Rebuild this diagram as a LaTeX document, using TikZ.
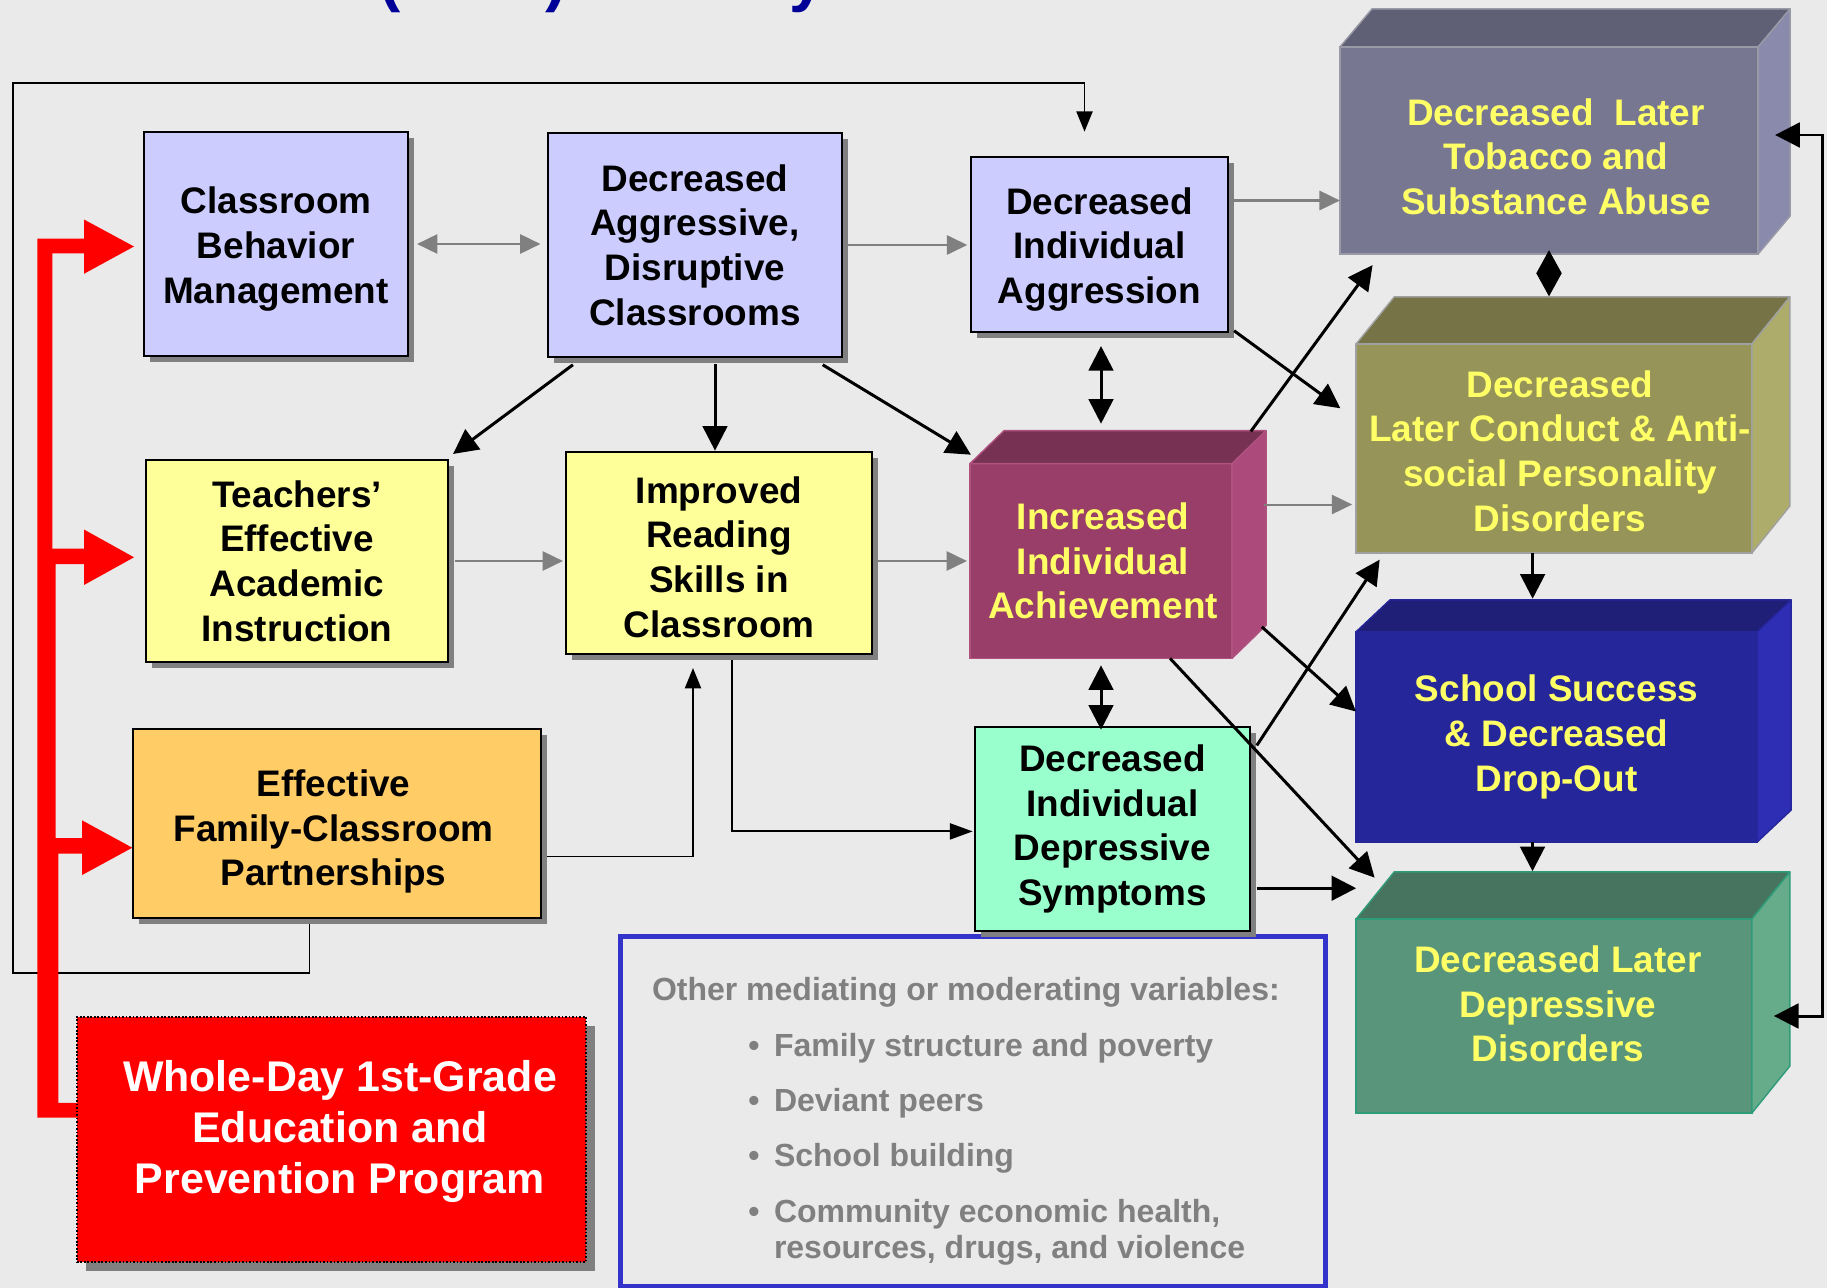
\documentclass[tikz,border=0pt]{standalone}
\usepackage{fontspec}
\setmainfont{Liberation Sans}
\usetikzlibrary{arrows.meta,calc,shadows}
\pgfdeclarelayer{canvas}
\pgfdeclarelayer{under}
\pgfsetlayers{canvas,under,main}

\definecolor{bg}{HTML}{EAEAEA}
\definecolor{lav}{HTML}{CCCCFF}
\definecolor{lyel}{HTML}{FFFF99}
\definecolor{lora}{HTML}{FFCC66}
\definecolor{aqua}{HTML}{99FFCC}
\definecolor{shade}{HTML}{808080}
\definecolor{arrgray}{HTML}{808080}
\definecolor{notegray}{HTML}{808080}
\definecolor{frameblue}{HTML}{3333CC}
\definecolor{titleblue}{HTML}{000099}
\definecolor{ytext}{HTML}{FFFF66}
\definecolor{progred}{HTML}{FF0000}
\definecolor{tobF}{HTML}{777791}\definecolor{tobT}{HTML}{5F5F76}\definecolor{tobS}{HTML}{8A8AAC}\definecolor{tobE}{HTML}{9A9AA6}
\definecolor{conF}{HTML}{969458}\definecolor{conT}{HTML}{767347}\definecolor{conS}{HTML}{AEAC6A}\definecolor{conE}{HTML}{A0A0A0}
\definecolor{schF}{HTML}{26269B}\definecolor{schT}{HTML}{1F1F77}\definecolor{schS}{HTML}{2E2EB5}
\definecolor{dldF}{HTML}{59957A}\definecolor{dldT}{HTML}{46745F}\definecolor{dldS}{HTML}{66AB8A}\definecolor{dldE}{HTML}{2E9C78}
\definecolor{iiaF}{HTML}{993D69}\definecolor{iiaT}{HTML}{773152}\definecolor{iiaS}{HTML}{AB4A7B}\definecolor{iiaE}{HTML}{B0527F}

\newcommand\bxfont{\fontsize{10.5pt}{12.7pt}\selectfont\bfseries}
\newcommand\rdfont{\fontsize{12.2pt}{14.6pt}\selectfont\bfseries}
\newcommand\ntfont{\fontsize{9.1pt}{10.3pt}\selectfont\bfseries}
\newcommand\ttlfont{\fontsize{18.2pt}{20pt}\selectfont\bfseries}

% top and side faces of a box whose front face is node #1
\newcommand\drawcube[6]{%
  \filldraw[fill=#4,draw=#6,line width=0.4pt,line join=round]
    (#1.north west) -- ($(#1.north west)+(#2,#3)$) -- ($(#1.north east)+(#2,#3)$) -- (#1.north east) -- cycle;
  \filldraw[fill=#5,draw=#6,line width=0.4pt,line join=round]
    (#1.north east) -- ($(#1.north east)+(#2,#3)$) -- ($(#1.south east)+(#2,#3)$) -- (#1.south east) -- cycle;
}

\begin{document}
\begin{tikzpicture}[x=0.01cm,y=-0.01cm,
  box/.style={draw=black,line width=0.7pt,inner sep=0pt,outer sep=0pt,align=center,font=\bxfont},
  btext/.style={inner sep=0pt,outer sep=0pt,align=center,font=\bxfont},
  shd/.style={drop shadow={shadow xshift=1.7pt,shadow yshift=-1.7pt,fill=shade,opacity=1}},
  face/.style={inner sep=0pt,outer sep=0pt,line width=0.4pt,align=center,font=\bxfont,text=ytext},
  note/.style={inner sep=0pt,outer sep=0pt,font=\ntfont,text=notegray},
  titlefrag/.style={inner sep=0pt,outer sep=0pt,font=\ttlfont,text=titleblue},
  garrow/.style={draw=arrgray,line width=0.57pt,-{Triangle[length=5.8pt,width=5.5pt]}},
  garrows/.style={draw=arrgray,line width=0.57pt,{Triangle[length=5.8pt,width=5.5pt]}-{Triangle[length=5.8pt,width=5.5pt]}},
  karrow/.style={draw=black,line width=0.85pt,-{Triangle[length=7pt,width=7pt]}},
  karrows/.style={draw=black,line width=0.85pt,{Triangle[length=7pt,width=7pt]}-{Triangle[length=7pt,width=7pt]}},
  tarrow/.style={draw=black,line width=0.55pt,-{Triangle[length=5.8pt,width=4.6pt]}},
]

\begin{pgfonlayer}{canvas}
  \fill[bg] (0,0) rectangle (1827,1288);
\end{pgfonlayer}
\useasboundingbox (0,0) rectangle (1827,1288);

% heading, cut by the top edge
\begin{scope}
  \clip (0,0) rectangle (1827,60);
  \node[titlefrag,anchor=base west] (tpo) at (379,0) {(};
  \node[titlefrag,anchor=base west] (tpc) at (545,0) {)};
  \node[titlefrag,anchor=base west] (ty)  at (789,0) {y};
\end{scope}

% frame of other variables
\node[draw=frameblue,line width=1.42pt,minimum width=7.04cm,minimum height=3.5cm,inner sep=0pt,outer sep=0pt] (oth) at (973,1111.7) {};
\node[note,anchor=base west] (othhead) at (652,1000) {Other mediating or moderating variables:};
\node[note,anchor=base] (bu1) at (754,1056.7) {•};
\node[note,anchor=base] (bu2) at (754,1111.7) {•};
\node[note,anchor=base] (bu3) at (754,1166.7) {•};
\node[note,anchor=base] (bu4) at (754,1222.7) {•};
\node[note,anchor=base west] (it1) at (774,1056.7) {Family structure and poverty};
\node[note,anchor=base west] (it2) at (774,1111.7) {Deviant peers};
\node[note,anchor=base west] (it3) at (774,1166.7) {School building};
\node[note,anchor=base west] (it4a) at (774,1222.7) {Community economic health,};
\node[note,anchor=base west] (it4b) at (774,1258.5) {resources, drugs, and violence};

% flat boxes
\node[box,shd,fill=lav,minimum width=2.64cm,minimum height=2.24cm] (cbm) at (276,244) {};
\node[btext] (cbmt) at (276,249) {Classroom\\Behavior\\Management};
\node[box,shd,fill=lav,minimum width=2.94cm,minimum height=2.24cm] (dadc) at (695,245) {Decreased\\Aggressive,\\Disruptive\\Classrooms};
\node[box,shd,fill=lav,minimum width=2.57cm,minimum height=1.75cm] (dia) at (1099.5,244.5) {};
\node[btext] (diat) at (1099.5,249.5) {Decreased\\Individual\\Aggression};
\node[box,shd,fill=lyel,minimum width=3.02cm,minimum height=2.02cm] (tea) at (297,561) {Teachers’\\Effective\\Academic\\Instruction};
\node[box,shd,fill=lyel,minimum width=3.06cm,minimum height=2.02cm] (irs) at (719,553) {};
\node[btext] (irst) at (719,557) {Improved\\Reading\\Skills in\\Classroom};
\node[box,shd,fill=lora,minimum width=4.08cm,minimum height=1.89cm] (fcp) at (337,823.5) {};
\node[btext] (fcpt) at (333.5,831.5) {Effective\\Family-Classroom\\Partnerships};
\node[box,shd,fill=aqua,minimum width=2.75cm,minimum height=2.04cm] (dds) at (1112.5,829) {Decreased\\Individual\\Depressive\\Symptoms};
\node[box,fill=progred,line width=0.4pt,dash pattern=on 0.5pt off 0.5pt,minimum width=5.09cm,minimum height=2.45cm,
      drop shadow={shadow xshift=2.6pt,shadow yshift=-2.6pt,fill=shade,opacity=1}] (prog) at (331.5,1139.5) {};
\node[inner sep=0pt,align=center,font=\rdfont,text=white] (progt) at (340,1131.5) {Whole-Day 1st-Grade\\Education and\\Prevention Program};

% solid boxes
\node[face,fill=iiaF,draw=iiaE,minimum width=2.62cm,minimum height=1.945cm] (iia) at (1101,561) {};
\drawcube{iia}{34}{-33}{iiaT}{iiaS}{iiaE}
\node[face] (iiat) at (1103,561) {Increased\\Individual\\Achievement};
\node[face,fill=tobF,draw=tobE,minimum width=4.18cm,minimum height=2.07cm] (tob) at (1549,150.5) {};
\drawcube{tob}{32}{-38}{tobT}{tobS}{tobE}
\node[face] (tobt) at (1556,156.5) {Decreased~~Later\\Tobacco and\\Substance Abuse};
\node[face,fill=conF,draw=conE,minimum width=3.955cm,minimum height=2.09cm] (con) at (1554,448.5) {};
\drawcube{con}{38}{-47}{conT}{conS}{conE}
\node[face] (cont) at (1560,451) {Decreased\\Later Conduct \& Anti-\\social Personality\\Disorders};
\node[face,fill=schF,draw=schF,minimum width=4.01cm,minimum height=2.10cm] (sch) at (1556.5,737) {School Success\\\& Decreased\\Drop-Out};
\drawcube{sch}{34}{-32}{schT}{schS}{schF}
\node[face,fill=dldF,draw=dldE,minimum width=3.955cm,minimum height=1.94cm] (dld) at (1554,1016) {};
\drawcube{dld}{38}{-47}{dldT}{dldS}{dldE}
\node[face] (dldt) at (1558,1004) {Decreased Later\\Depressive\\Disorders};

% grey links
\draw[garrows] ($(cbm.east)+(9,0)$) -- ($(dadc.west |- cbm.east)+(-7.5,0)$);
\draw[garrow] ($(dadc.east)+(6,0)$) -- ($(dia.west |- dadc.east)+(-3.7,0)$);
\draw[garrow] ($(dia.east)+(5,-44)$) coordinate (g3s) -- (g3s -| tob.west);
\draw[garrow] ($(tea.east)+(7,0)$) coordinate (g4s) -- ($(g4s -| irs.west)+(-3,0)$);
\draw[garrow] ($(irs.east)+(6,8)$) coordinate (g5s) -- ($(g5s -| iia.west)+(-3,0)$);
\draw[garrow] ($(iia.east)+(32,-56.5)$) coordinate (g6s) -- ($(g6s -| con.west)+(-4,0)$);

% black links
\draw[karrow] ($(dadc.south west)+(25,7.7)$) -- ($(tea.north east)+(5,-6)$);
\draw[karrow] ($(dadc.south)+(20,7)$) -- ($(irs.north)+(-4,-1.3)$);
\draw[karrow] ($(dadc.south east)+(-19.4,7.7)$) -- ($(iia.north west)+(1,-9)$);
\draw[karrows] ($(dia.south)+(1.5,14)$) -- ($(iia.north)+(0,-40)$);
\draw[karrow] ($(dia.south east)+(6,-1.3)$) -- ($(con.west)+(-15.8,-40.2)$);
\draw[karrow] ($(iia.north east)+(18.7,-32.3)$) -- ($(tob.south west)+(32.7,11)$);
\draw[karrows] ($(iia.south)+(0,7)$) -- ($(iia.south |- dds.north)+(0,2.7)$);
\draw[karrow] ($(iia.south east)+(29.7,-31.5)$) -- ($(sch.west)+(0,-25.5)$);
\draw[karrow] ($(iia.south)+(69,0)$) -- ($(dld.north west)+(18.5,-41.3)$);
\draw[karrow] ($(dds.north east)+(6.7,18.5)$) -- ($(con.south west)+(23.5,6.6)$);
\draw[karrow] ($(dds.east)+(6.7,59.2)$) coordinate (k11s) -- (k11s -| dld.west);
\draw[draw=black,line width=0.85pt,{Triangle[length=6.6pt,width=7pt]}-{Triangle[length=6.6pt,width=7pt]}]
  ($(tob.south)+(0,-4)$) -- ($(tob.south |- con.north)+(0,-47.5)$);
\draw[karrow] ($(con.south)+(-21.4,0)$) -- ($(con.south |- sch.north)+(-21.4,-33.2)$);
\draw[karrow] ($(sch.south)+(-24,0)$) -- ($(sch.south |- dld.north)+(-24,-47.7)$);
\draw[karrows] ($(tob.east)+(17,-15.5)$) -- ++(47,0) |- ($(dld.east)+(22,0)$);

% thin lines under the boxes and the program bracket
\begin{pgfonlayer}{under}
  \coordinate (fbtl) at (12.8,82.7);
  \draw[tarrow] ($(fcp.south)+(-27.5,0)$) -- ++(0,54.6) -| (fbtl) -| ($(dia.north)+(-15,-25.3)$);
  \draw[tarrow] ($(fcp.east)+(0,33)$) -| ($(irs.south)+(-26,14)$);
  \draw[tarrow,-{Triangle[length=6.5pt,width=4.6pt]}] ($(irs.south)+(13,6)$) |- ($(dds.west)+(-2.3,2.4)$);
  \fill[progred] (52.3,253.3) -- (84,253.3) -- (84,273.8) -- (134,246.5) -- (84,219.5) -- (84,238.7)
    -- (37.3,238.7) -- (37.3,1117.5) -- (78,1117.5) -- (78,1102.8) -- (58.3,1102.8)
    -- (58.3,853.5) -- (82,853.5) -- (82,875.1) -- (132.3,847.7) -- (82,820.3) -- (82,838.2) -- (55.7,838.2)
    -- (55.7,564) -- (84,564) -- (84,585) -- (134,557.3) -- (84,529.5) -- (84,548.6) -- (52.3,548.6) -- cycle;
\end{pgfonlayer}

\end{tikzpicture}
\end{document}
